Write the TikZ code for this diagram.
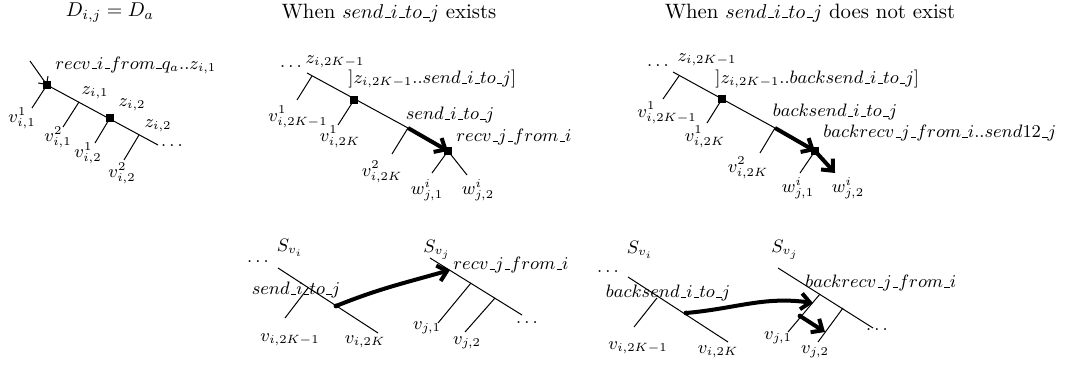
\documentclass[tikz,border=0pt]{standalone}
\usetikzlibrary{arrows.meta}
\newcommand{\usc}{\leavevmode\kern.06em\vbox{\hrule width.3em}}
\begin{document}
\begin{tikzpicture}[x=0.5pt,y=-0.5pt,
  lbl/.style={inner sep=0pt, font=\fontsize{9.2}{11}\selectfont},
  ttl/.style={inner sep=0pt, font=\fontsize{10.4}{12}\selectfont},
  sq/.style={fill=black, inner sep=0pt, minimum size=4pt, rectangle},
  dotn/.style={circle, fill=black, inner sep=0pt, minimum size=2.4pt},
  ln/.style={line width=0.5pt},
  tarr/.style={line width=2pt, -{Straight Barb[length=4.5pt,width=8pt]}},
  sarr/.style={line width=0.5pt, -{Straight Barb[length=3pt,width=6pt]}}
]
\useasboundingbox (0,0) rectangle (1068,367);

% ---------- titles ----------
\node[ttl] (t1) at (110,13) {$D_{i,j} = D_a$};
\node[ttl] (t2) at (389,13) {When $send\usc i\usc to\usc j$ exists};
\node[ttl] (t3) at (810,13) {When $send\usc i\usc to\usc j$ does not exist};

% ---------- top left ----------
\coordinate (qa) at (30,61);
\coordinate (c1) at (47,85);
\coordinate (e1) at (158,145);
\coordinate (b1) at (79,102);
\coordinate (c2) at (110,118);
\coordinate (b2) at (139,135);
\coordinate (l1) at (32,108);
\coordinate (l2) at (63,127);
\coordinate (l3) at (95,143);
\coordinate (l4) at (124,160);
\draw[sarr] (qa) -- (c1);
\draw[ln] (c1) -- (e1);
\draw[ln] (c1) -- (l1);
\draw[ln] (b1) -- (l2);
\draw[ln] (c2) -- (l3);
\draw[ln] (b2) -- (l4);
\node[sq] (s1) at (c1) {};
\node[sq] (s2) at (c2) {};
\node[lbl, anchor=west] (r1) at (55,65) {$recv\usc i\usc from\usc q_a..z_{i,1}$};
\node[lbl] (z1) at (95,93) {$z_{i,1}$};
\node[lbl] (z2) at (132,105) {$z_{i,2}$};
\node[lbl] (z3) at (158,126) {$z_{i,2}$};
\node[lbl] (d1) at (172,146) {$\dots$};
\node[lbl] (v1) at (22,118) {$v^1_{i,1}$};
\node[lbl] (v2) at (58,137) {$v^2_{i,1}$};
\node[lbl] (v3) at (88,153) {$v^1_{i,2}$};
\node[lbl] (v4) at (122,173) {$v^2_{i,2}$};

% ---------- top middle ----------
\coordinate (m0) at (307,73);
\coordinate (mb1) at (312,76);
\coordinate (mc1) at (354,100);
\coordinate (mb2) at (408,128);
\coordinate (mc2) at (448,151);
\coordinate (ml1) at (297,100);
\coordinate (ml2) at (338,125);
\coordinate (ml3) at (392,154);
\coordinate (ml4) at (432,173);
\coordinate (ml5) at (467,175);
\draw[ln] (m0) -- (mb2);
\draw[ln] (mb1) -- (ml1);
\draw[ln] (mc1) -- (ml2);
\draw[ln] (mb2) -- (ml3);
\draw[ln] (mc2) -- (ml4);
\draw[ln] (mc2) -- (ml5);
\draw[tarr] (mb2) -- (mc2);
\node[sq] (ms1) at (mc1) {};
\node[sq] (ms2) at (mc2) {};
\node[lbl] (md) at (291,67) {$\dots$};
\node[lbl] (mz) at (335,62) {$z_{i,2K-1}$};
\node[lbl, anchor=west] (mr1) at (348,79) {$]z_{i,2K-1}..send\usc i\usc to\usc j]$};
\node[lbl] (mv1) at (298,117) {$v^1_{i,2K-1}$};
\node[lbl] (mv2) at (340,137) {$v^1_{i,2K}$};
\node[lbl] (ms) at (450,115) {$send\usc i\usc to\usc j$};
\node[lbl, anchor=west] (mr2) at (456,137) {$recv\usc j\usc from\usc i$};
\node[lbl] (mv3) at (382,172) {$v^2_{i,2K}$};
\node[lbl] (mw1) at (427,190) {$w^i_{j,1}$};
\node[lbl] (mw2) at (478,190) {$w^i_{j,2}$};

% ---------- top right ----------
\coordinate (n0) at (673,72);
\coordinate (nb1) at (679,76);
\coordinate (nc1) at (722,99);
\coordinate (nb2) at (775,128);
\coordinate (nc2) at (815,151);
\coordinate (ne) at (835,173);
\coordinate (nl1) at (663,99);
\coordinate (nl2) at (707,123);
\coordinate (nl3) at (760,153);
\coordinate (nl4) at (800,173);
\draw[ln] (n0) -- (nb2);
\draw[ln] (nb1) -- (nl1);
\draw[ln] (nc1) -- (nl2);
\draw[ln] (nb2) -- (nl3);
\draw[ln] (nc2) -- (nl4);
\draw[tarr] (nb2) -- (nc2);
\draw[tarr] (nc2) -- (ne);
\node[sq] (ns1) at (nc1) {};
\node[sq] (ns2) at (nc2) {};
\node[lbl] (nd) at (658,66) {$\dots$};
\node[lbl] (nz) at (707,60) {$z_{i,2K-1}$};
\node[lbl, anchor=west] (nr1) at (715,79) {$]z_{i,2K-1}..backsend\usc i\usc to\usc j]$};
\node[lbl] (nv1) at (667,113) {$v^1_{i,2K-1}$};
\node[lbl] (nv2) at (705,137) {$v^1_{i,2K}$};
\node[lbl] (ns) at (835,112) {$backsend\usc i\usc to\usc j$};
\node[lbl, anchor=west] (nr2) at (823,133) {$backrecv\usc j\usc from\usc i..send12\usc j$};
\node[lbl] (nv3) at (748,168) {$v^2_{i,2K}$};
\node[lbl] (nw1) at (798,188) {$w^i_{j,1}$};
\node[lbl] (nw2) at (848,188) {$w^i_{j,2}$};

% ---------- bottom left ----------
\coordinate (p0) at (278,268);
\coordinate (pe) at (378,333);
\coordinate (pb1) at (308,288);
\coordinate (pl1) at (285,318);
\coordinate (pb2) at (336,306);
\coordinate (q0) at (430,258);
\coordinate (qe) at (522,315);
\coordinate (qb0) at (450,270);
\coordinate (qb1) at (471,283);
\coordinate (ql1) at (438,323);
\coordinate (qb2) at (495,298);
\coordinate (ql2) at (465,332);
\draw[ln] (p0) -- (pe);
\draw[ln] (pb1) -- (pl1);
\draw[ln] (q0) -- (qe);
\draw[ln] (qb1) -- (ql1);
\draw[ln] (qb2) -- (ql2);
\node[dotn] (pdot) at (pb2) {};
\draw[tarr] (pdot.center) to[out=22,in=196] (qb0);
\node[lbl] (pS) at (290,248) {$S_{v_i}$};
\node[lbl] (pd) at (258,262) {$\dots$};
\node[lbl] (ps) at (296,290) {$send\usc i\usc to\usc j$};
\node[lbl] (pv1) at (290,340) {$v_{i,2K-1}$};
\node[lbl] (pv2) at (365,342) {$v_{i,2K}$};
\node[lbl] (qS) at (437,250) {$S_{v_j}$};
\node[lbl, anchor=west] (qr) at (453,265) {$recv\usc j\usc from\usc i$};
\node[lbl] (qv1) at (427,328) {$v_{j,1}$};
\node[lbl] (qv2) at (467,343) {$v_{j,2}$};
\node[lbl] (qd) at (527,323) {$\dots$};

% ---------- bottom right ----------
\coordinate (u0) at (628,277);
\coordinate (ue) at (728,342);
\coordinate (ub1) at (657,298);
\coordinate (ul1) at (634,327);
\coordinate (ub2) at (686,313);
\coordinate (w0) at (778,268);
\coordinate (we) at (873,328);
\coordinate (wb1) at (820,294);
\coordinate (wl1) at (788,332);
\coordinate (wa) at (813,303);
\coordinate (wdp) at (800,316);
\coordinate (wb2) at (843,308);
\coordinate (wl2) at (818,342);
\coordinate (wa2) at (825,332);
\draw[ln] (u0) -- (ue);
\draw[ln] (ub1) -- (ul1);
\draw[ln] (w0) -- (we);
\draw[ln] (wb1) -- (wl1);
\draw[ln] (wb2) -- (wl2);
\node[dotn] (udot) at (ub2) {};
\node[dotn] (wdot) at (wdp) {};
\draw[tarr] (udot.center) to[out=5,in=172] (wa);
\draw[tarr] (wdot.center) -- (wa2);
\node[lbl] (uS) at (640,250) {$S_{v_i}$};
\node[lbl] (ud) at (608,272) {$\dots$};
\node[lbl] (us) at (668,293) {$backsend\usc i\usc to\usc j$};
\node[lbl] (uv1) at (638,348) {$v_{i,2K-1}$};
\node[lbl] (uv2) at (718,352) {$v_{i,2K}$};
\node[lbl] (wS) at (785,250) {$S_{v_j}$};
\node[lbl, anchor=west] (wr) at (805,283) {$backrecv\usc j\usc from\usc i$};
\node[lbl] (wv1) at (778,338) {$v_{j,1}$};
\node[lbl] (wv2) at (815,352) {$v_{j,2}$};
\node[lbl] (wd) at (877,330) {$\dots$};
\end{tikzpicture}
\end{document}
